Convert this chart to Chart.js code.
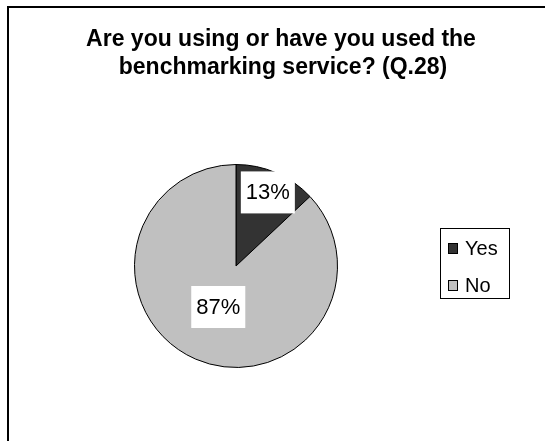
<!DOCTYPE html>
<html>
<head>
<meta charset="utf-8">
<script src="https://cdn.jsdelivr.net/npm/chart.js@4"></script>
<style>
  body { margin:0; background:#fff; }
  canvas { display:block; }
</style>
</head>
<body>
<canvas id="pie" width="545" height="441"></canvas>
<script>
// data
const TITLE_LINES = ["Are you using or have you used the", "benchmarking service? (Q.28)"];
const categories = ["Yes", "No"];
const shares = [13, 87];
const sliceColors = ["#333333", "#c0c0c0"];

// label distance from centre, as part of the radius (Excel puts them unevenly)
const labelRadius = [0.79, 0.44];

// ---------------------
// frame, title, legend, % labels
// ---------------------
const excelLook = {
  id: "excelLook",
  beforeDraw(chart){
    const ctx = chart.ctx;
    ctx.save();
    ctx.strokeStyle = "#000";
    ctx.lineWidth = 2;
    ctx.strokeRect(8, 7, 700, 600);

    ctx.fillStyle = "#000";
    ctx.font = "bold 23px Arial, 'Liberation Sans', sans-serif";
    ctx.textAlign = "center";
    ctx.textBaseline = "alphabetic";
    ctx.fillText(TITLE_LINES[0], 281, 46);
    ctx.fillText(TITLE_LINES[1], 283, 74);
    ctx.restore();
  },
  afterDraw(chart){
    const ctx = chart.ctx;
    const ds = chart.data.datasets[0];
    const meta = chart.getDatasetMeta(0);
    ctx.save();

    // percentage labels
    ctx.font = "22px Arial, 'Liberation Sans', sans-serif";
    ctx.textAlign = "center";
    ctx.textBaseline = "middle";
    const total = ds.data.reduce((a,b)=>a+b,0);
    meta.data.forEach((arc,i)=>{
      const p = arc.getProps(["x","y","startAngle","endAngle","outerRadius"], true);
      const mid = (p.startAngle + p.endAngle)/2;
      const r = p.outerRadius * labelRadius[i];
      const x = p.x + Math.cos(mid)*r;
      const y = p.y + Math.sin(mid)*r;
      const txt = Math.round(ds.data[i]/total*100) + "%";
      const w = ctx.measureText(txt).width + 10;
      ctx.fillStyle = "#fff";
      ctx.fillRect(x - w/2, y - 21, w, 42);
      ctx.fillStyle = "#000";
      ctx.fillText(txt, x, y + 1);
    });

    // legend
    ctx.strokeStyle = "#000";
    ctx.lineWidth = 1;
    ctx.strokeRect(440.5, 228.5, 69, 70);
    ctx.font = "20px Arial, 'Liberation Sans', sans-serif";
    ctx.textAlign = "left";
    ctx.textBaseline = "alphabetic";
    chart.data.labels.forEach((lab,i)=>{
      const y = 243 + i*37;
      ctx.fillStyle = ds.backgroundColor[i];
      ctx.fillRect(448, y, 10, 11);
      ctx.strokeRect(448.5, y + 0.5, 9, 10);
      ctx.fillStyle = "#000";
      ctx.fillText(lab, 465, y + 12);
    });
    ctx.restore();
  }
};

new Chart(document.getElementById("pie"), {
  type: "pie",
  data: {
    labels: categories,
    datasets: [{
      data: shares,
      backgroundColor: sliceColors,
      borderColor: "#000",
      borderWidth: 1
    }]
  },
  options: {
    responsive: false,
    devicePixelRatio: 1,
    animation: false,
    layout: { padding: { left: 134, right: 207, top: 164, bottom: 73 } },
    plugins: {
      legend: { display: false },
      title: { display: false },
      tooltip: { enabled: false }
    }
  },
  plugins: [excelLook]
});
</script>
</body>
</html>
